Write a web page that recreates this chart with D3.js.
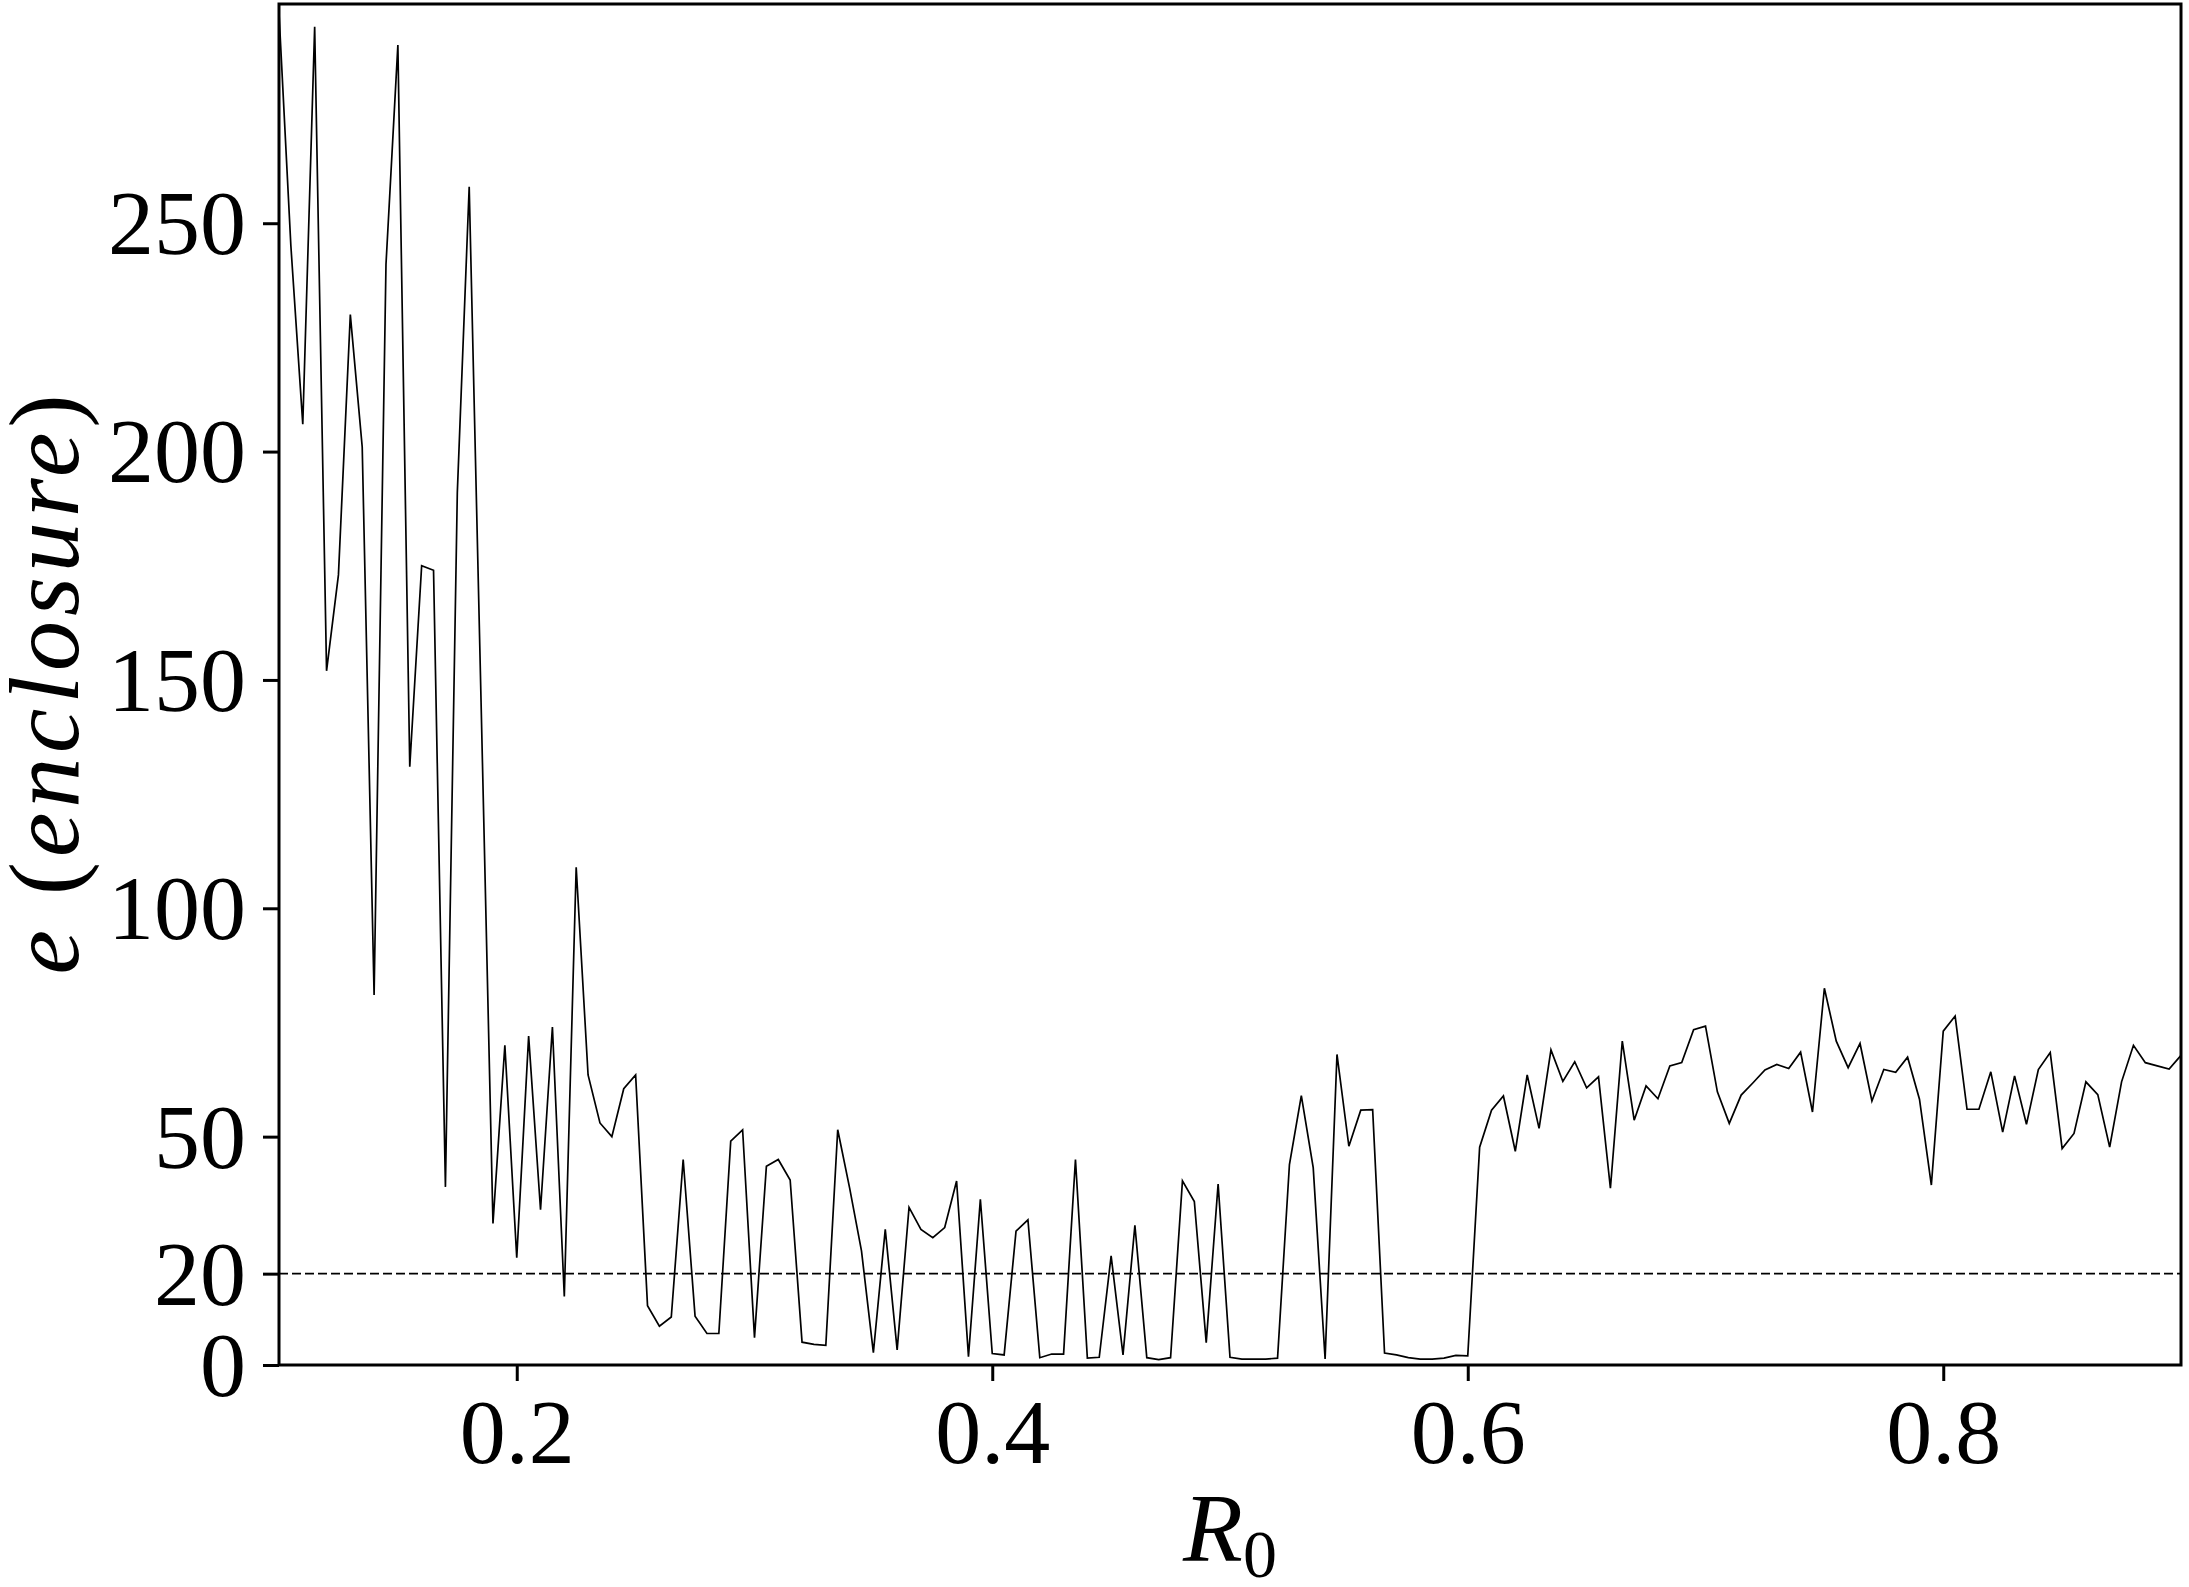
<!DOCTYPE html>
<meta charset="utf-8">
<script src="https://cdn.jsdelivr.net/npm/d3@7"></script>
<style>
    body { margin: 0; background: #fff; }
    .tick text { font-family: "Liberation Serif", serif; }
</style>
<body>
<script>
// R0 sample points
var r0 = [
 0.100,0.105,0.110,0.115,0.120,0.125,0.130,0.135,0.140,0.145,
 0.150,0.155,0.160,0.165,0.170,0.175,0.180,0.185,0.190,0.195,
 0.200,0.205,0.210,0.215,0.220,0.225,0.230,0.235,0.240,0.245,
 0.250,0.255,0.260,0.265,0.270,0.275,0.280,0.285,0.290,0.295,
 0.300,0.305,0.310,0.315,0.320,0.325,0.330,0.335,0.340,0.345,
 0.350,0.355,0.360,0.365,0.370,0.375,0.380,0.385,0.390,0.395,
 0.400,0.405,0.410,0.415,0.420,0.425,0.430,0.435,0.440,0.445,
 0.450,0.455,0.460,0.465,0.470,0.475,0.480,0.485,0.490,0.495,
 0.500,0.505,0.510,0.515,0.520,0.525,0.530,0.535,0.540,0.545,
 0.550,0.555,0.560,0.565,0.570,0.575,0.580,0.585,0.590,0.595,
 0.600,0.605,0.610,0.615,0.620,0.625,0.630,0.635,0.640,0.645,
 0.650,0.655,0.660,0.665,0.670,0.675,0.680,0.685,0.690,0.695,
 0.700,0.705,0.710,0.715,0.720,0.725,0.730,0.735,0.740,0.745,
 0.750,0.755,0.760,0.765,0.770,0.775,0.780,0.785,0.790,0.795,
 0.800,0.805,0.810,0.815,0.820,0.825,0.830,0.835,0.840,0.845,
 0.850,0.855,0.860,0.865,0.870,0.875,0.880,0.885,0.890,0.895,
 0.900
];

// e (enclosure)
var enclosure = [
 296,245,206,293,152,173,230,201,81,241,
 289,131,175,174,39,191,258,145,31,70,
 23.5,72,34,74,15,109,63.5,53,50,60.5,
 63.5,13,8.5,10.5,45,10.7,6.9,6.9,49,51.5,
 6,43.5,45,40.5,5,4.5,4.3,51.5,38.8,25,
 2.7,29.7,3.3,34.5,29.7,27.9,30.1,40.3,1.8,36.3,
 2.5,2.2,29.3,31.8,1.6,2.4,2.4,45,1.5,1.7,
 23.9,2.2,30.6,1.6,1.2,1.6,40.3,35.8,4.9,39.6,
 1.7,1.3,1.3,1.3,1.5,43.9,59,43.2,1.3,68,
 47.9,55.8,55.9,2.6,2.2,1.6,1.3,1.3,1.5,2.1,
 2.0,47.7,55.8,58.9,46.8,63.5,51.8,69,62.1,66.4,
 60.7,63.1,38.7,70.9,53.6,61.1,58.3,65.5,66.2,73.4,
 74.2,59.8,52.9,59.1,61.8,64.6,65.8,64.9,68.5,55.4,
 82.5,70.9,65.1,70.4,57.8,64.7,64.1,67.4,58.2,39.4,
 73.1,76.4,56,56,64.2,51,63.3,52.7,64.7,68.4,
 47.4,50.7,62,59.2,47.7,62,70,66.2,65.5,64.8,
 67.8
];

var xTicks = [0.2, 0.4, 0.6, 0.8];
var yTicks = [0, 20, 50, 100, 150, 200, 250];
var threshold = [20];

var margin = {top: 4, right: 8, bottom: 222, left: 279},
    width = 2189 - margin.left - margin.right,
    height = 1587 - margin.top - margin.bottom;

var svg = d3.select("body").append("svg")
    .attr("width", width + margin.left + margin.right)
    .attr("height", height + margin.top + margin.bottom)
    .append("g")
    .attr("transform", "translate(" + margin.left + "," + margin.top + ")");

var x = d3.scaleLinear().domain([0.1, 0.9]).range([0, width]);
var y = d3.scaleLinear().domain([0, 298]).range([height, 0]);

// dashed reference line
svg.selectAll(".thresh")
    .data(threshold)
    .enter().append("line")
    .attr("class", "thresh")
    .attr("x1", x(0.1)).attr("x2", x(0.9))
    .attr("y1", function(d) { return y(d); })
    .attr("y2", function(d) { return y(d); })
    .style("stroke", "#000")
    .style("stroke-width", 1.6)
    .style("stroke-dasharray", "9,4");

var line = d3.line()
    .x(function(d, i) { return x(r0[i]); })
    .y(function(d) { return y(d); });

svg.append("path")
    .datum(enclosure)
    .attr("d", line)
    .style("fill", "none")
    .style("stroke", "#000")
    .style("stroke-width", 1.7)
    .style("stroke-linejoin", "miter");

// axes
var xAxis = svg.append("g")
    .attr("transform", "translate(0," + height + ")")
    .call(d3.axisBottom(x).tickValues(xTicks).tickSize(16).tickPadding(18)
        .tickFormat(d3.format(".1f")));

var yAxis = svg.append("g")
    .call(d3.axisLeft(y).tickValues(yTicks).tickSize(16).tickPadding(17)
        .tickFormat(d3.format("d")));

[xAxis, yAxis].forEach(function(a) {
    a.select(".domain").remove();
    a.selectAll(".tick line").style("stroke", "#000").style("stroke-width", 3);
    a.selectAll(".tick text")
        .style("fill", "#000")
        .style("font-size", "92px");
});
xAxis.selectAll(".tick text").attr("dy", "0.7em");
yAxis.selectAll(".tick text").attr("dy", "0.33em");

// frame
svg.append("rect")
    .attr("x", 0).attr("y", 0)
    .attr("width", width).attr("height", height)
    .style("fill", "none")
    .style("stroke", "#000")
    .style("stroke-width", 3);

// labels
var xl = svg.append("text")
    .attr("x", width / 2)
    .attr("y", 1557)
    .attr("text-anchor", "middle")
    .style("font-family", "'Liberation Serif', serif")
    .style("font-size", "98px");
xl.append("tspan").style("font-style", "italic").text("R");
xl.append("tspan").attr("dy", 16).style("font-size", "68px").text("0");

var yl = svg.append("text")
    .attr("transform", "translate(" + (78 - margin.left) + "," + (height / 2) + ") rotate(-90)")
    .attr("text-anchor", "middle")
    .attr("textLength", 580)
    .attr("lengthAdjust", "spacing")
    .style("font-family", "'Liberation Serif', serif")
    .style("font-size", "100px");
yl.append("tspan").style("font-style", "italic").text("e");
yl.append("tspan").text(" (");
yl.append("tspan").style("font-style", "italic").text("enclosure");
yl.append("tspan").text(")");
</script>
</body>
</html>
